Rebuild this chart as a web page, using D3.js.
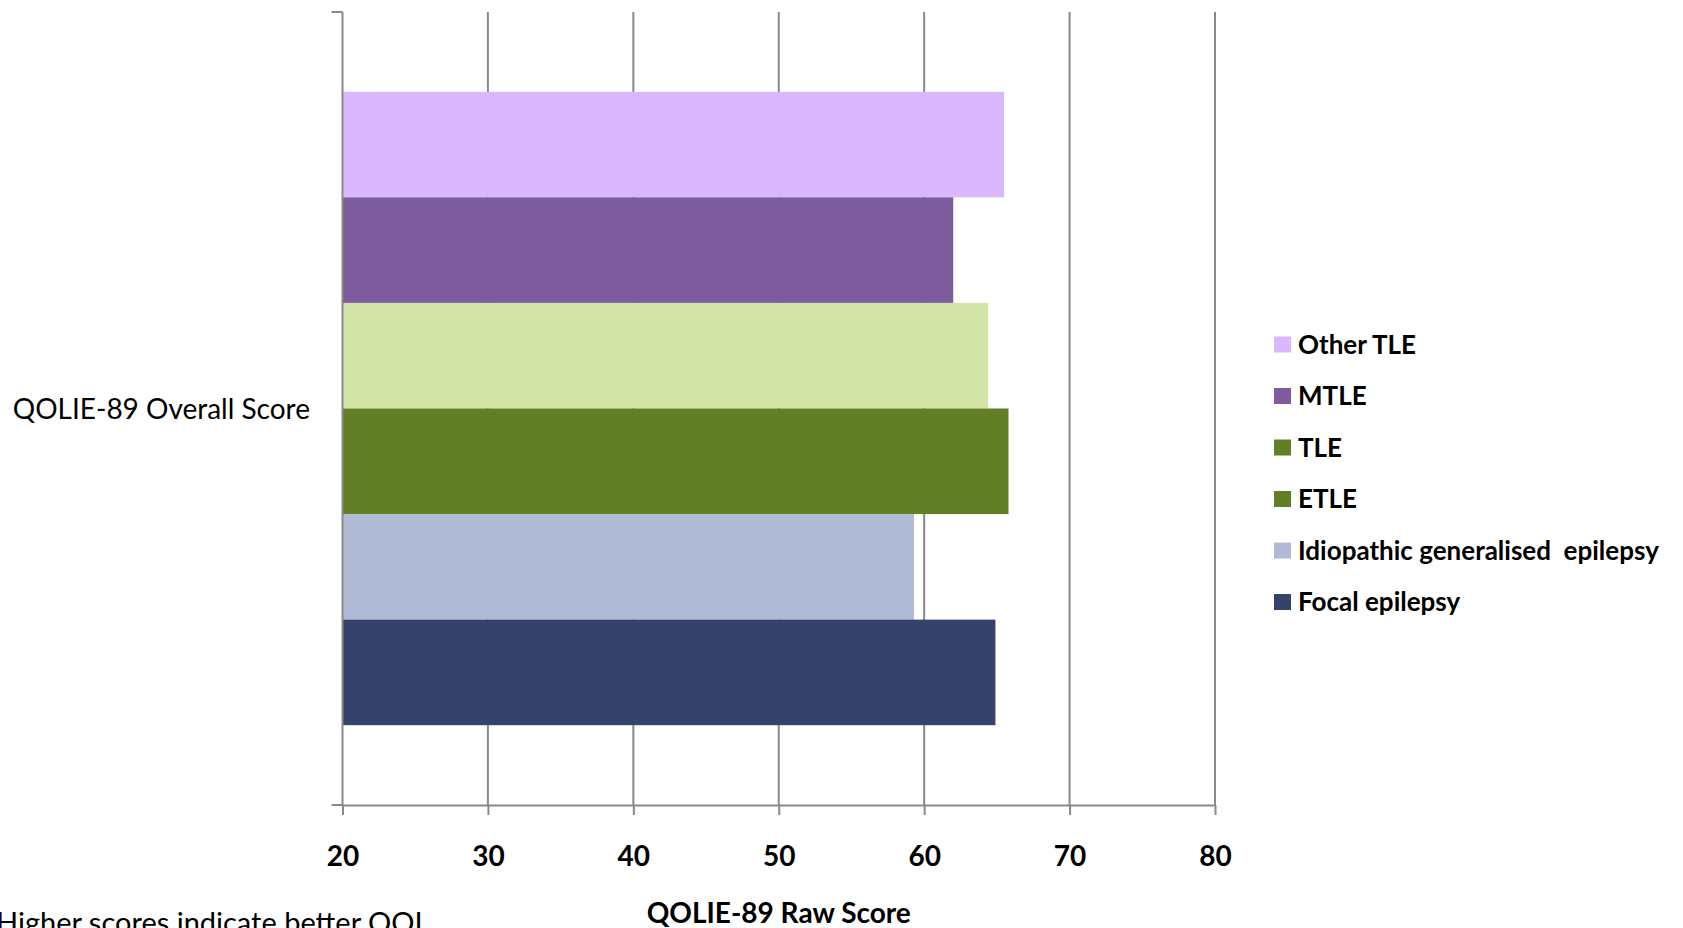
<!DOCTYPE html>
<html>
<head>
<meta charset="utf-8">
<script src="https://cdn.jsdelivr.net/npm/d3@7"></script>
<style>
  html, body { margin: 0; padding: 0; background: #ffffff; }
  svg { display: block; }
  text { font-family: Lato, "Open Sans", "Liberation Sans", sans-serif; fill: #000; }
</style>
</head>
<body>
<svg id="chart" width="1683" height="928"></svg>
<script>
// QOLIE-89 overall score by epilepsy group (bars listed top to bottom)
const category = "QOLIE-89 Overall Score";
const groups = ["Other TLE", "MTLE", "TLE", "ETLE", "Idiopathic generalised  epilepsy", "Focal epilepsy"];
const scores = [65.5, 62.0, 64.4, 65.8, 59.3, 64.9];
const barColours = ["#dab8fd", "#7c5c9c", "#d2e4a6", "#637f25", "#b0bad6", "#35426a"];
const swatchColours = ["#dab8fd", "#7c5c9c", "#637f25", "#637f25", "#b0bad6", "#35426a"];
const xTicks = [20, 30, 40, 50, 60, 70, 80];
const xTitle = "QOLIE-89 Raw Score";
const note = "Higher scores indicate better QOL";

const svg = d3.select("#chart");
const plot = { left: 342.5, right: 1215, top: 12, bottom: 805 };
const gridColour = "#898989";

const x = d3.scaleLinear().domain([20, 80]).range([plot.left, plot.right]);
const y = d3.scaleBand().domain([category]).range([plot.top, plot.bottom])
  .paddingInner(0).paddingOuter(0.126);
const ySeries = d3.scaleBand().domain(groups).range([0, y.bandwidth()]).padding(0);

// vertical gridlines
svg.append("g").selectAll("line")
  .data(xTicks.slice(1))
  .join("line")
  .attr("x1", d => x(d)).attr("x2", d => x(d))
  .attr("y1", plot.top).attr("y2", plot.bottom)
  .attr("stroke", gridColour).attr("stroke-width", 2);

// bars
svg.append("g").selectAll("rect")
  .data(groups.map((g, i) => ({ g, v: scores[i], c: barColours[i] })))
  .join("rect")
  .attr("x", x(20))
  .attr("y", d => y(category) + ySeries(d.g))
  .attr("width", d => x(d.v) - x(20))
  .attr("height", ySeries.bandwidth())
  .attr("fill", d => d.c);

// category axis with ticks at the band edges
const yAxis = svg.append("g");
yAxis.append("line")
  .attr("x1", plot.left).attr("x2", plot.left)
  .attr("y1", plot.top).attr("y2", plot.bottom)
  .attr("stroke", gridColour).attr("stroke-width", 2);
yAxis.selectAll("line.edge")
  .data(y.range())
  .join("line").attr("class", "edge")
  .attr("x1", plot.left - 11).attr("x2", plot.left)
  .attr("y1", d => d).attr("y2", d => d)
  .attr("stroke", gridColour).attr("stroke-width", 2);
yAxis.append("text")
  .attr("x", 310).attr("y", y(category) + y.bandwidth() / 2 + 10)
  .attr("text-anchor", "end")
  .style("font-size", "28px")
  .text(category);

// value axis
const xAxis = svg.append("g")
  .attr("transform", `translate(0,${plot.bottom})`)
  .call(d3.axisBottom(x).tickValues(xTicks).tickSize(10).tickSizeOuter(0).tickPadding(30));
xAxis.select(".domain").attr("stroke", gridColour).attr("stroke-width", 2);
xAxis.selectAll(".tick line").attr("stroke", gridColour).attr("stroke-width", 2);
xAxis.selectAll(".tick text")
  .attr("dy", null).attr("y", 61)
  .style("font-size", "28px").style("font-weight", "bold").style("fill", "#000");

svg.append("text")
  .attr("x", (plot.left + plot.right) / 2).attr("y", 923)
  .attr("text-anchor", "middle")
  .style("font-size", "28px").style("font-weight", "bold")
  .text(xTitle);

// footnote, running off the lower-left corner
svg.append("text")
  .attr("x", -4).attr("y", 933)
  .style("font-size", "29px")
  .text(note);

// legend
const legend = svg.append("g").selectAll("g")
  .data(groups)
  .join("g")
  .attr("transform", (d, i) => `translate(1274,${344.5 + i * 51.5})`);
legend.append("rect")
  .attr("x", 0).attr("y", -8).attr("width", 17).attr("height", 16)
  .attr("fill", (d, i) => swatchColours[i]);
legend.append("text")
  .attr("x", 24).attr("y", 9)
  .style("font-size", "26px").style("font-weight", "bold")
  .style("white-space", "pre")
  .text(d => d);
</script>
</body>
</html>
